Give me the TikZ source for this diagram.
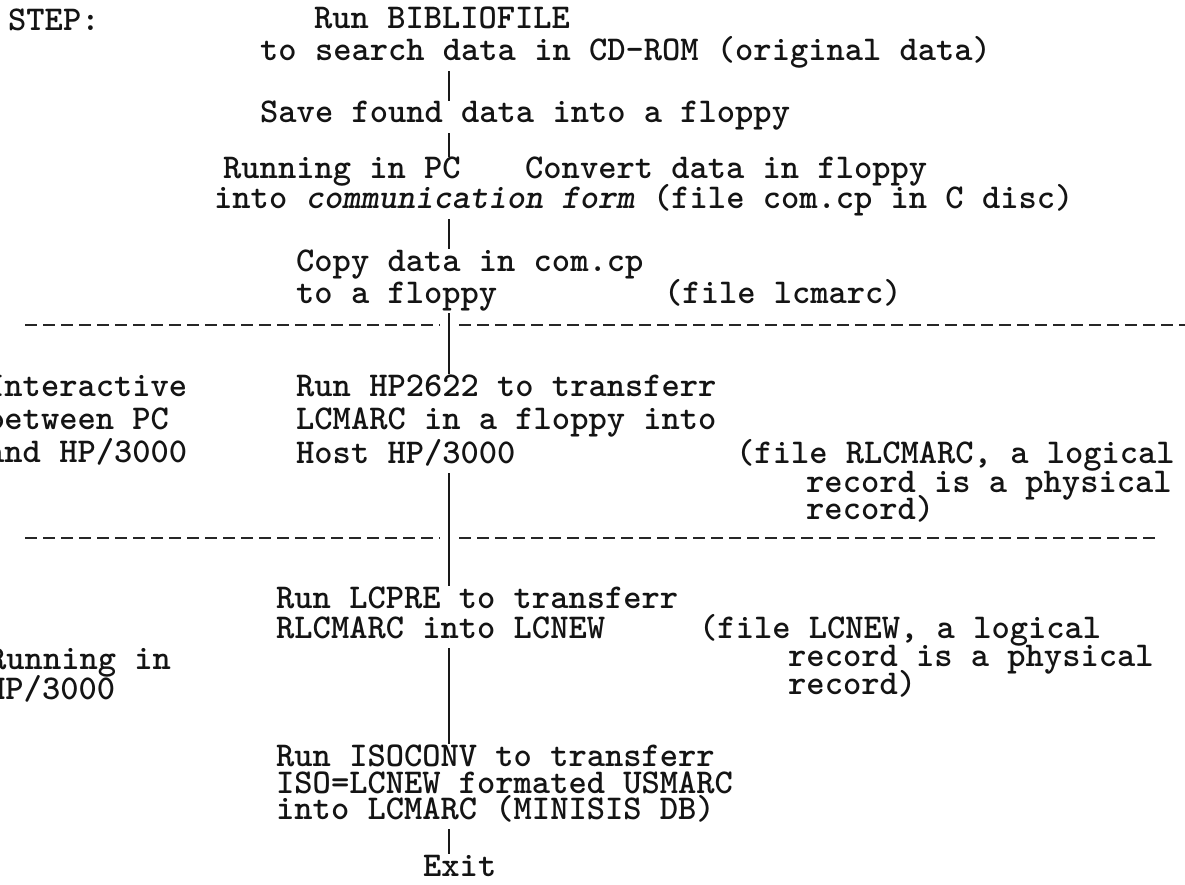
\documentclass[tikz,border=0pt]{standalone}
\usepackage{fontspec}
\begin{document}
\begin{tikzpicture}[x=1pt,y=-1pt,
  t/.style={anchor=west,inner sep=0pt,text height=16pt,text depth=4pt,
            font=\ttfamily\bfseries\fontsize{34.8}{36}\selectfont,text=black!92},
  spine/.style={line width=2.8pt,draw=black!90,shorten <=6pt,shorten >=6pt},
  sepline/.style={line width=2.4pt,draw=black!85,dash pattern=on 12pt off 6pt}]
\useasboundingbox (0,0) rectangle (1185,885);
\clip (0,0) rectangle (1185,885);
\coordinate (spinex) at (449,0);

% header
\node[t] (step) at (8,25) {STEP:};
\node[t] (r1) at (314,23) {Run BIBLIOFILE};
\node[t] (r2) at (260,55) {to search data in CD-ROM (original data)};
\node[t] (save) at (260,117) {Save found data into a floppy};
\node[t] (runpc) at (223,173) {Running in PC};
\node[t] (conv) at (525,173) {Convert data in floppy};
\node[t] (comm) at (214,203) {into \textit{communication form} (file com.cp in C disc)};
\node[t] (copy) at (296,265) {Copy data in com.cp};
\node[t] (floppy) at (296,297) {to a floppy};
\node[t] (lcm) at (664,297) {(file lcmarc)};

% separators
\draw[sepline] (25,325) -- (440,325);
\draw[sepline] (459,325) -- (1185,325);

% interactive section
\node[t] (ia) at (-14,390) {Interactive};
\node[t] (ib) at (-14,423) {between PC};
\node[t] (ic) at (-14,456) {and HP/3000};
\node[t] (hp1) at (296,390) {Run HP2622 to transferr};
\node[t] (hp2) at (296,423) {LCMARC in a floppy into};
\node[t] (hp3) at (296,457) {Host HP/3000};
\node[t] (rl1) at (736,457) {(file RLCMARC, a logical};
\node[t] (rl2) at (806,486) {record is a physical};
\node[t] (rl3) at (806,513) {record)};

\draw[sepline] (25,538) -- (440,538);
\draw[sepline] (459,538) -- (1155,538);

% HP/3000 section
\node[t] (pre1) at (276,602) {Run LCPRE to transferr};
\node[t] (pre2) at (276,632) {RLCMARC into LCNEW};
\node[t] (nw1) at (699,632) {(file LCNEW, a logical};
\node[t] (nw2) at (788,660) {record is a physical};
\node[t] (nw3) at (788,688) {record)};
\node[t] (rin1) at (-12,663) {Running in};
\node[t] (rin2) at (-13,693) {HP/3000};
\node[t] (iso1) at (276,760) {Run ISOCONV to transferr};
\node[t] (iso2) at (276,787) {ISO=LCNEW formated USMARC};
\node[t] (iso3) at (276,813) {into LCMARC (MINISIS DB)};
\node[t] (exit) at (423,870) {Exit};

% connectors
\draw[spine] (r2.south -| spinex) -- (save.north -| spinex);
\draw[spine] (save.south -| spinex) -- (runpc.north -| spinex);
\draw[spine] (comm.south -| spinex) -- (copy.north -| spinex);
\draw[spine] (floppy.south -| spinex) -- (hp1.north -| spinex);
\draw[spine] (hp3.south -| spinex) -- (pre1.north -| spinex);
\draw[spine] (pre2.south -| spinex) -- (iso1.north -| spinex);
\draw[spine] (iso3.south -| spinex) -- (exit.north -| spinex);
\end{tikzpicture}
\end{document}
